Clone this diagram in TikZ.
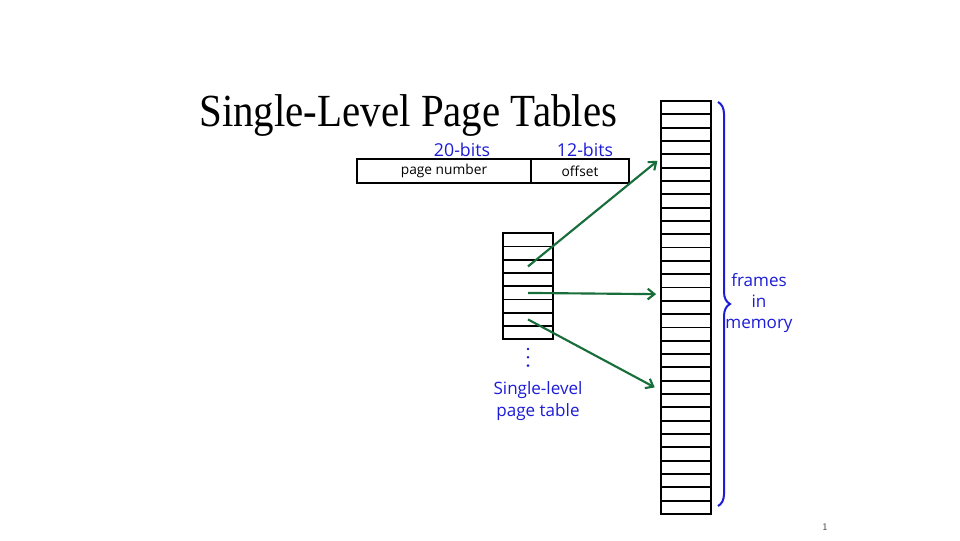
\documentclass[tikz,border=0pt]{standalone}
\usepackage{fontspec}
\setmainfont{Liberation Serif}
\newfontfamily\handfont{Open Sans}
\usetikzlibrary{arrows.meta,decorations.pathreplacing,positioning}
\definecolor{labelblue}{RGB}{28,28,215}
\definecolor{arrowgreen}{RGB}{24,110,58}

\begin{document}
\begin{tikzpicture}[x=0.75pt,y=-0.75pt,
  frame/.style={draw, line width=1.4pt, minimum width=37.5pt, minimum height=9.99pt, inner sep=0pt},
  entry/.style={draw, line width=1.4pt, minimum width=37pt, minimum height=9.94pt, inner sep=0pt},
  field/.style={draw, line width=1.5pt, minimum height=18pt, inner sep=0pt, font=\handfont\fontsize{10.3}{12}\selectfont},
  bits/.style={text=labelblue, font=\handfont\fontsize{13.3}{15}\selectfont},
  note/.style={text=labelblue, align=center, font=\handfont\fontsize{12.8}{16}\selectfont},
  map/.style={draw=arrowgreen, line width=1.6pt, -{Straight Barb[length=5pt,width=8pt]}}]
\useasboundingbox (0,0) rectangle (960,540);

% title
\node[anchor=base west, inner sep=0pt] (title) at (199,126)
  {\scalebox{0.89}[1]{\fontsize{34.5}{40}\selectfont Single-Level Page Tables}};

% virtual address
\node[field, minimum width=130.5pt] (pn) at (444,171) {page number};
\node[field, minimum width=73.5pt] (off) at (580,171) {offset};
\node[bits] (b20) at (462,150) {20-bits};
\node[bits] (b12) at (585,150) {12-bits};

% page table
\foreach \i in {1,...,8}
  \node[entry] (pt\i) at (528,{233.3+13.25*(\i-0.5)}) {};
\foreach \j in {0,1,2}
  \fill[labelblue] (528,{349+8.3*\j}) circle (1.4);
\node[note] (ptlabel) at (538,401) {Single-level\\page table};

% frames
\foreach \i in {1,...,31}
  \node[frame] (fr\i) at (686,{101+13.32*(\i-0.5)}) {};

\coordinate (bt) at (718,102);
\coordinate (bb) at (718,506);
\draw[labelblue, line width=1.5pt, decorate, decoration={brace, amplitude=9pt}] (bt) -- (bb);
\node[note] (frlabel) at (759,303) {frames\\in\\memory};

% mappings
\draw[map] (pt3.center) -- ([xshift=-2pt]fr5.west);
\draw[map] (pt5.center) -- ([xshift=-3pt]fr15.west);
\draw[map] (pt7.center) -- ([xshift=-4pt]fr22.west);

\node[text=black!70, font=\sffamily\fontsize{7.5}{9}\selectfont] (pg) at (825,527) {1};
\end{tikzpicture}
\end{document}
